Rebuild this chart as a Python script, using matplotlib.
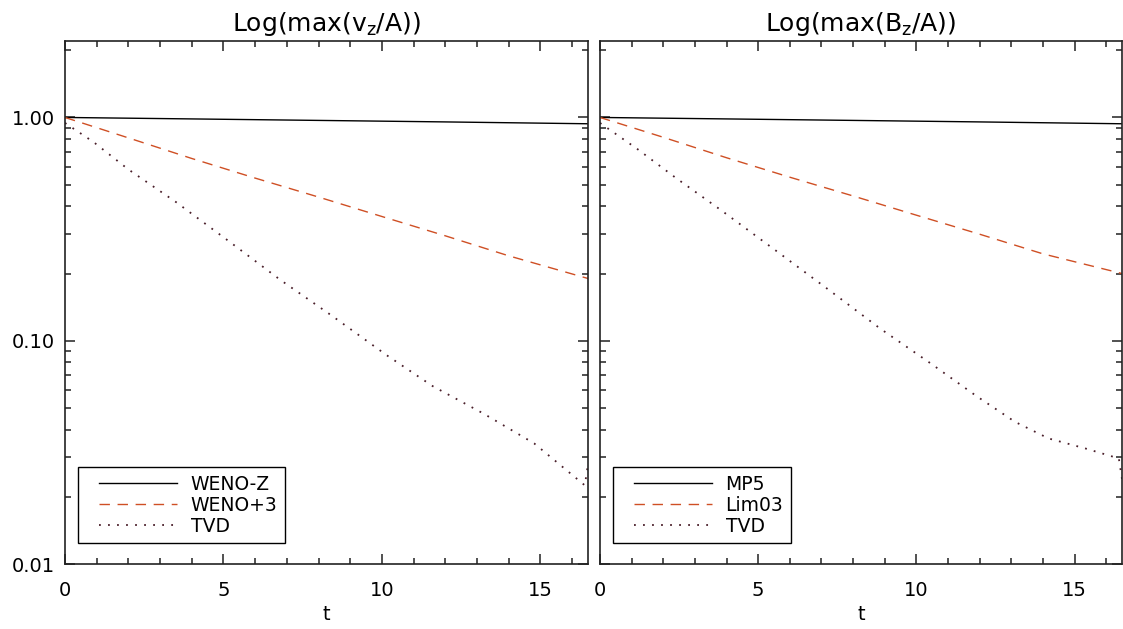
import matplotlib
matplotlib.use("Agg")
import matplotlib.pyplot as plt
from matplotlib.ticker import LogLocator, FixedLocator, MultipleLocator, NullFormatter
from matplotlib.legend_handler import HandlerLine2D

plt.rcParams['font.family'] = ['DejaVu Sans']
plt.rcParams['mathtext.default'] = 'regular'

# ---- data -------------------------------------------------------------
# left panel: max(v_z/A)
t_wenoz = [0.0, 4.0, 8.0, 12.0, 16.5]
v_wenoz = [1.0, 0.985, 0.970, 0.955, 0.937]

t_weno3 = [0.0, 2.0, 4.0, 6.0, 8.0, 10.0, 12.0, 14.0, 16.5]
v_weno3 = [1.0, 0.81, 0.655, 0.535, 0.44, 0.36, 0.295, 0.24, 0.19]

t_tvd_v = [0.0, 0.9, 2.0, 3.5, 5.2, 6.8, 8.4, 10.15, 11.6, 13.2, 14.8, 16.4, 16.5]
v_tvd_v = [0.945, 0.776, 0.585, 0.418, 0.277, 0.187, 0.130, 0.0861, 0.0626,
           0.0472, 0.0347, 0.0225, 0.028]

# right panel: max(B_z/A)
t_mp5 = [0.0, 4.0, 8.0, 12.0, 16.5]
b_mp5 = [1.0, 0.985, 0.970, 0.955, 0.937]

t_lim03 = [0.0, 2.0, 4.0, 6.0, 8.0, 10.0, 12.0, 14.0, 16.5]
b_lim03 = [1.0, 0.815, 0.66, 0.54, 0.445, 0.365, 0.30, 0.245, 0.20]

t_tvd_b = [0.0, 1.17, 2.39, 3.83, 5.58, 7.28, 8.87, 10.46, 11.9, 13.12, 14.18,
           15.35, 16.4, 16.5]
b_tvd_b = [0.945, 0.724, 0.537, 0.384, 0.252, 0.167, 0.113, 0.079, 0.0565,
           0.0433, 0.0365, 0.0329, 0.0297, 0.024]

titles = ['Log(max(v$_z$/A))', 'Log(max(B$_z$/A))']
labels_left = ['WENO-Z', 'WENO+3', 'TVD']
labels_right = ['MP5', 'Lim03', 'TVD']
ytick_vals = [0.01, 0.1, 1.0]
ytick_text = ['0.01', '0.10', '1.00']
xtick_vals = [0, 5, 10, 15]

# ---- styling ----------------------------------------------------------
c_solid = 'black'
c_dash = '#cf4f24'
c_dot = '#4a1f2a'
lw = 1.0
dash_style = (0, (7.5, 5.5))
dot_style = (0, (1.0, 4.0))

fig = plt.figure(figsize=(11.23, 6.29), dpi=100)
ax1 = fig.add_axes([65 / 1123, 65 / 629, 523 / 1123, 523 / 629])
ax2 = fig.add_axes([600 / 1123, 65 / 629, 522 / 1123, 523 / 629])

panels = [
    (ax1, titles[0], labels_left,
     [(t_wenoz, v_wenoz), (t_weno3, v_weno3), (t_tvd_v, v_tvd_v)], True),
    (ax2, titles[1], labels_right,
     [(t_mp5, b_mp5), (t_lim03, b_lim03), (t_tvd_b, b_tvd_b)], False),
]

# legend handles indented from the frame edge
indent = HandlerLine2D(xpad=0.7)

for ax, title, labels, series, show_y in panels:
    (ts, vs), (td, vd), (tt, vt) = series
    l1, = ax.plot(ts, vs, color=c_solid, lw=lw, label=labels[0])
    l2, = ax.plot(td, vd, color=c_dash, lw=lw, linestyle=dash_style, label=labels[1])
    l3, = ax.plot(tt, vt, color=c_dot, lw=1.3, linestyle=dot_style, label=labels[2])

    ax.set_yscale('log')
    ax.set_xlim(0, 16.5)
    ax.set_ylim(0.01, 2.2)

    ax.xaxis.set_major_locator(FixedLocator(xtick_vals))
    ax.xaxis.set_minor_locator(MultipleLocator(1))
    ax.set_xticklabels([str(v) for v in xtick_vals])

    ax.yaxis.set_major_locator(FixedLocator(ytick_vals))
    ax.yaxis.set_minor_locator(LogLocator(base=10, subs=range(2, 10)))
    ax.yaxis.set_minor_formatter(NullFormatter())
    if show_y:
        ax.set_yticklabels(ytick_text)
    else:
        ax.set_yticklabels([])

    ax.tick_params(which='both', direction='in', top=True, right=True,
                   color='#222222', width=1.1, labelsize=14)
    ax.tick_params(which='major', length=7.5)
    ax.tick_params(which='minor', length=4)
    ax.tick_params(axis='x', pad=12.5)
    ax.tick_params(axis='y', pad=7)
    for sp in ax.spines.values():
        sp.set_linewidth(1.2)
        sp.set_color('#222222')

    ax.set_title(title, fontsize=18, pad=7)
    ax.set_xlabel('t', fontsize=14, labelpad=3)

    leg = ax.legend(handles=[l1, l2, l3], loc='lower left',
                    bbox_to_anchor=(0.025, 0.040),
                    borderaxespad=0, fontsize=13.5, frameon=True,
                    fancybox=False, shadow=False, handlelength=4.9,
                    handletextpad=0.7, labelspacing=0.1, borderpad=0.4,
                    edgecolor='black', framealpha=1,
                    handler_map={l1: indent, l2: indent, l3: indent})
    leg.get_frame().set_linewidth(1.0)

fig.savefig('out.png', dpi=100)
